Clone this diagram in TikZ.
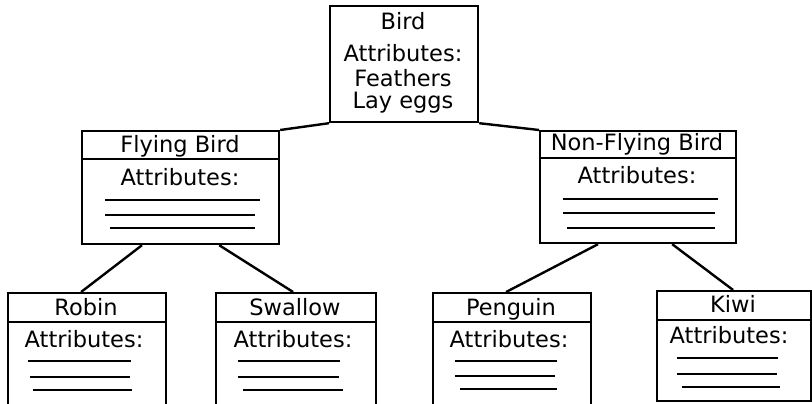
\documentclass[tikz,border=0pt]{standalone}
\usepackage{fontspec}
\setmainfont{DejaVu Sans}
\begin{document}
\begin{tikzpicture}[x=1pt,y=-1pt,
  box/.style={draw=black, line width=2.2pt, rectangle, inner sep=0pt, anchor=north west},
  lbl/.style={anchor=base, inner sep=0pt, font=\fontsize{22.5}{25}\selectfont},
  conn/.style={draw=black, line width=2.4pt},
  rule/.style={draw=black, line width=2.4pt}]
\useasboundingbox (0,0) rectangle (812,404);
\begin{scope}
\clip (0,0) rectangle (812,404);
% boxes
\node[box, minimum width=148pt, minimum height=116pt] (bird) at (329,5) {};
\node[box, minimum width=197pt, minimum height=113pt] (fly) at (81,130) {};
\node[box, minimum width=196pt, minimum height=112pt] (nonfly) at (539,130) {};
\node[box, minimum width=158pt, minimum height=130pt] (robin) at (7,292) {};
\node[box, minimum width=160pt, minimum height=130pt] (swallow) at (215,292) {};
\node[box, minimum width=158pt, minimum height=130pt] (penguin) at (432,292) {};
\node[box, minimum width=154pt, minimum height=110pt] (kiwi) at (656,290) {};
% header separators
\draw[rule] (81,159) -- (278,159);
\draw[rule] (539,158) -- (735,158);
\draw[rule] (7,322) -- (165,322);
\draw[rule] (215,322) -- (375,322);
\draw[rule] (432,322) -- (590,322);
\draw[rule] (656,320) -- (810,320);
% texts
\node[lbl] (t1) at (403,30) {Bird};
\node[lbl] (t2) at (403,62) {Attributes:};
\node[lbl] (t3) at (403,87) {Feathers};
\node[lbl] (t4) at (403,108) {Lay eggs};
\node[lbl] (f1) at (180,152) {Flying Bird};
\node[lbl] (f2) at (180,185) {Attributes:};
\node[lbl] (n1) at (637,150) {Non-Flying Bird};
\node[lbl] (n2) at (637,183) {Attributes:};
\node[lbl] (r1) at (86,315) {Robin};
\node[lbl] (r2) at (84,347) {Attributes:};
\node[lbl] (s1) at (295,315) {Swallow};
\node[lbl] (s2) at (293,347) {Attributes:};
\node[lbl] (p1) at (511,315) {Penguin};
\node[lbl] (p2) at (509,347) {Attributes:};
\node[lbl] (k1) at (733,312) {Kiwi};
\node[lbl] (k2) at (729,343) {Attributes:};
% attribute rules
\draw[rule] (105,200) -- (260,200);
\draw[rule] (105,215) -- (255,215);
\draw[rule] (110,228) -- (255,228);
\draw[rule] (563,199) -- (718,199);
\draw[rule] (563,213) -- (715,213);
\draw[rule] (567,228) -- (715,228);
\draw[rule] (28,361) -- (131,361);
\draw[rule] (30,377) -- (130,377);
\draw[rule] (33,390) -- (132,390);
\draw[rule] (238,361) -- (340,361);
\draw[rule] (238,377) -- (339,377);
\draw[rule] (243,390) -- (343,390);
\draw[rule] (455,361) -- (557,361);
\draw[rule] (455,376) -- (555,376);
\draw[rule] (460,389) -- (557,389);
\draw[rule] (677,358) -- (778,358);
\draw[rule] (677,374) -- (777,374);
\draw[rule] (682,387) -- (780,387);
% connectors
\draw[conn] (bird.south west) -- (fly.north east);
\draw[conn] (bird.south east) -- (nonfly.north west);
\draw[conn] ([xshift=61pt]fly.south west) -- ([xshift=-6pt]robin.north);
\draw[conn] ([xshift=-61pt]fly.south east) -- ([xshift=-3pt]swallow.north);
\draw[conn] ([xshift=59pt]nonfly.south west) -- ([xshift=-6pt]penguin.north);
\draw[conn] ([xshift=-65pt]nonfly.south east) -- ([xshift=-1pt]kiwi.north);
\end{scope}
\end{tikzpicture}
\end{document}
